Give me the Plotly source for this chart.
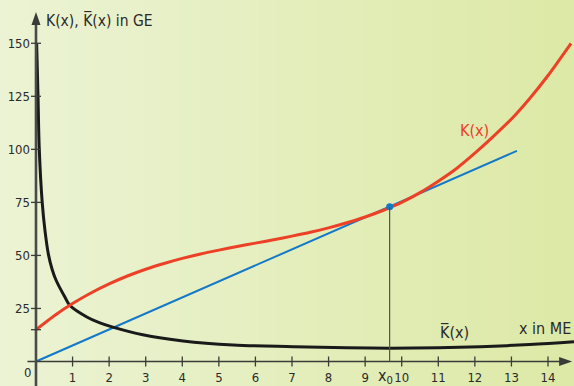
import plotly.graph_objects as go

# ---- data ----
k_x = [0, 0.5, 1, 1.5, 2, 2.5, 3, 3.5, 4, 4.5, 5, 5.5, 6, 6.5, 7, 7.5, 8, 8.5, 9, 9.5,
       10, 10.5, 11, 11.5, 12, 12.5, 13, 13.5, 14, 14.63]
k_y = [15, 21.6, 27.3, 32.3, 36.6, 40.3, 43.5, 46.2, 48.6, 50.7, 52.5, 54.2, 55.8, 57.4,
       59.1, 60.9, 63.0, 65.4, 68.1, 71.3, 75.0, 79.6, 85.0, 91.0, 98.2, 106, 114.3, 124,
       134.8, 150]

kbar_x = [0.018, 0.055, 0.09, 0.17, 0.246, 0.34, 0.44, 0.55, 0.79, 0.93, 1.39, 1.73, 2.1,
          2.92, 4.02, 5.39, 7.03, 8.5, 9.67, 11, 12.15, 13.5, 14.71]
kbar_y = [150, 125, 100, 75, 61.7, 50.5, 43.5, 38.3, 30.4, 26.4, 21, 18.3, 16.2,
          12.6, 9.7, 7.8, 7.0, 6.5, 6.3, 6.5, 7.0, 8.0, 9.3]

tan_x = [0, 13.15]
tan_y = [0, 99.3]

x0_val = 9.67
x0_k = 73

x_ticks = list(range(1, 15))
y_ticks = [25, 50, 75, 100, 125, 150]

W, H = 574, 386
XR = [-0.984, 14.711]
YR = [-11.55, 170.4]

FONT = "Liberation Sans Narrow, DejaVu Sans Condensed, Arial Narrow, sans-serif"
AXC = "#3b3b38"
TXT = "#2a2a2a"
RED = "#ec4027"
BLUE = "#1478c8"
BLK = "#1a1a1a"

fig = go.Figure()

# background gradient strips
shapes = []
n = 60
c0 = (235, 243, 212)
c1 = (221, 233, 166)
for i in range(n):
    t = i / (n - 1)
    c = tuple(round(c0[j] + (c1[j] - c0[j]) * t) for j in range(3))
    shapes.append(dict(type="rect", xref="paper", yref="paper",
                       x0=i / n, x1=(i + 1) / n + 0.002, y0=0, y1=1,
                       fillcolor="rgb(%d,%d,%d)" % c, line=dict(width=0), layer="below"))

# axes
shapes.append(dict(type="line", xref="x", yref="y", x0=XR[0] + 0.75, x1=14.4, y0=0, y1=0,
                   line=dict(color=AXC, width=1.6)))
shapes.append(dict(type="line", xref="x", yref="y", x0=0, x1=0, y0=YR[0], y1=160,
                   line=dict(color="#4a4a46", width=2.6)))
# arrow heads
shapes.append(dict(type="path", xref="x", yref="y", xsizemode="pixel", ysizemode="pixel",
                   xanchor=14.66, yanchor=0, path="M0,0 L-13,4.5 L-13,-4.5 Z",
                   fillcolor=AXC, line=dict(width=0)))
shapes.append(dict(type="path", xref="x", yref="y", xsizemode="pixel", ysizemode="pixel",
                   xanchor=0, yanchor=164.7, path="M0,0 L-4.5,-13 L4.5,-13 Z",
                   fillcolor=AXC, line=dict(width=0)))
# ticks
for v in x_ticks:
    shapes.append(dict(type="line", xref="x", yref="y", ysizemode="pixel", yanchor=0,
                       x0=v, x1=v, y0=-5, y1=5, line=dict(color=AXC, width=1.3)))
for v in y_ticks + [15]:
    shapes.append(dict(type="line", xref="x", yref="y", xsizemode="pixel", xanchor=0,
                       y0=v, y1=v, x0=-5, x1=5, line=dict(color=AXC, width=1.3)))
# vertical line at x0
shapes.append(dict(type="line", xref="x", yref="y", x0=x0_val, x1=x0_val, y0=0, y1=x0_k,
                   line=dict(color="#55553f", width=1.2)))

fig.add_trace(go.Scatter(x=tan_x, y=tan_y, mode="lines",
                         line=dict(color=BLUE, width=2), hoverinfo="skip"))
fig.add_trace(go.Scatter(x=kbar_x, y=kbar_y, mode="lines",
                         line=dict(color=BLK, width=3, shape="spline", smoothing=1.0),
                         hoverinfo="skip"))
fig.add_trace(go.Scatter(x=k_x, y=k_y, mode="lines",
                         line=dict(color=RED, width=3, shape="spline", smoothing=0.6),
                         hoverinfo="skip"))
fig.add_trace(go.Scatter(x=[x0_val], y=[x0_k], mode="markers",
                         marker=dict(color=BLUE, size=7), hoverinfo="skip"))

annotations = [
    dict(x=0, y=164.7, xref="x", yref="y", text="K(x), K\u0305(x) in GE", showarrow=False,
         xanchor="left", yanchor="middle", xshift=8, yshift=-8,
         font=dict(family=FONT, size=15.5, color=TXT)),
    dict(x=14.71, y=0, xref="x", yref="y", text="x in ME", showarrow=False,
         xanchor="right", yanchor="middle", yshift=33, xshift=-1,
         font=dict(family=FONT, size=16, color=TXT)),
    dict(x=11.45, y=0, xref="x", yref="y", text="K\u0305(x)", showarrow=False,
         xanchor="center", yanchor="middle", yshift=29,
         font=dict(family=FONT, size=16, color=TXT)),
    dict(x=12.0, y=109, xref="x", yref="y", text="K(x)", showarrow=False,
         xanchor="center", yanchor="middle",
         font=dict(family=FONT, size=16, color=RED)),
    dict(x=x0_val, y=0, xref="x", yref="y", text="x<sub>0</sub>", showarrow=False,
         xanchor="center", yanchor="middle", yshift=-15, xshift=-4,
         font=dict(family=FONT, size=16, color=TXT)),
    dict(x=0, y=0, xref="x", yref="y", text="0", showarrow=False,
         xanchor="right", yanchor="middle", yshift=-11, xshift=-3,
         font=dict(family=FONT, size=13, color=TXT)),
]

fig.update_layout(
    width=W, height=H, margin=dict(l=0, r=0, t=0, b=0),
    paper_bgcolor="rgba(0,0,0,0)", plot_bgcolor="rgba(0,0,0,0)",
    showlegend=False, shapes=shapes, annotations=annotations,
    xaxis=dict(range=XR, showgrid=False, zeroline=False, showline=False,
               tickvals=x_ticks, ticktext=[str(v) for v in x_ticks],
               ticks="", tickfont=dict(family=FONT, size=13, color=TXT),
               anchor="free", position=(H - 361.5) / H, ticklabelstandoff=6,
               fixedrange=True),
    yaxis=dict(range=YR, showgrid=False, zeroline=False, showline=False,
               tickvals=y_ticks, ticktext=[str(v) for v in y_ticks],
               ticks="", tickfont=dict(family=FONT, size=13, color=TXT),
               anchor="free", position=36 / W, ticklabelstandoff=6,
               fixedrange=True),
)

fig.write_html("out.html", config={"displayModeBar": False},
               post_script="document.body.style.margin='0';document.body.style.overflow='hidden';")
